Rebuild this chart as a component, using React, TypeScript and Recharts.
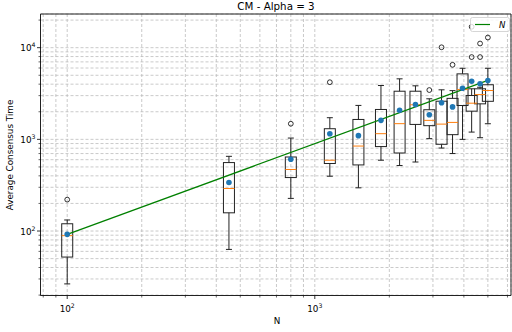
import React from 'react';
import * as R from 'recharts';

const { ComposedChart, XAxis, YAxis, CartesianGrid, Scatter, ReferenceArea, Customized } = R as any;

// ---- data ----
const sizes = [100, 450, 800, 1150, 1500, 1850, 2200, 2550, 2900, 3250, 3600, 3950, 4300, 4650, 5000];
const whiskerLow = [26.5, 63, 227, 396, 296, 592, 518, 566, 1018, 804, 700, 1000, 1200, 1042, 1480];
const quartile1 = [52, 158, 383, 545, 526, 834, 710, 1455, 1410, 883, 1125, 2340, 2030, 2440, 2600];
const medians = [89, 291, 469, 592, 845, 1153, 1483, 2382, 1611, 1466, 1530, 3490, 2480, 3080, 3410];
const quartile3 = [120, 558, 642, 1306, 1648, 2118, 3350, 3350, 2104, 2606, 2800, 5180, 3010, 3560, 3940];
const whiskerHigh = [132, 653, 1033, 1722, 2345, 3865, 4572, 3837, 2770, 3470, 3400, 5960, 3560, 3700, 5960];
const means = [92, 338, 606, 1153, 1097, 1611, 2080, 2400, 1855, 2505, 2260, 3610, 4300, 4030, 4380];

const outlierN = [100, 800, 1150, 2900, 3250, 3600, 4300, 4300, 4650, 4650, 5000];
const outlierT = [220, 1480, 4200, 3450, 10100, 6500, 16900, 7900, 11100, 7900, 12900];

const fitN = [100, 5000];
const fitT = [92, 4400];

const xMajorTicks = [100, 1000];
const xMinorTicks = [80, 90, 200, 300, 400, 500, 600, 700, 800, 900, 2000, 3000, 4000, 5000, 6000];
const yMajorTicks = [100, 1000, 10000];
const yMinorTicks = [20, 30, 40, 50, 60, 70, 80, 90, 200, 300, 400, 500, 600, 700, 800, 900,
  2000, 3000, 4000, 5000, 6000, 7000, 8000, 9000, 20000];

const legendLabel = 'N';

const X_DOMAIN = [78, 6200];
const Y_DOMAIN = [19.8, 23300];

const FONT = 'DejaVu Sans, Verdana, sans-serif';

const meanData = sizes.map((n, i) => ({ x: n, y: means[i] }));
const medianData = sizes.map((n, i) => ({ x: n, y: medians[i] }));
const outlierData = outlierN.map((n, i) => ({ x: n, y: outlierT[i] }));
const fitData = fitN.map((n, i) => ({ x: n, y: fitT[i] }));

const xTicks = [...xMinorTicks, ...xMajorTicks].sort((a, b) => a - b);
const yTicks = [...yMinorTicks, ...yMajorTicks].sort((a, b) => a - b);

const hookX = (R as any).useXAxisScale || null;
const hookY = (R as any).useYAxisScale || null;
const hookPlot = (R as any).usePlotArea || (R as any).useOffset || null;

function BoxLayer() {
  const sx = hookX ? hookX() : null;
  const sy = hookY ? hookY() : null;
  const plot = hookPlot ? hookPlot() : null;
  const p = plot && plot.width ? plot : { x: 40.5, y: 14, width: 470.5, height: 281.5 };
  const lx0 = Math.log10(X_DOMAIN[0]);
  const lx1 = Math.log10(X_DOMAIN[1]);
  const ly0 = Math.log10(Y_DOMAIN[0]);
  const ly1 = Math.log10(Y_DOMAIN[1]);
  const fx = typeof sx === 'function' ? sx : (v: number) => p.x + ((Math.log10(v) - lx0) / (lx1 - lx0)) * p.width;
  const fy = typeof sy === 'function' ? sy : (v: number) => p.y + p.height - ((Math.log10(v) - ly0) / (ly1 - ly0)) * p.height;
  const half = 5.5;
  const cap = 3;
  return (
    <g>
      {sizes.map((n, i) => {
        const cx = fx(n);
        const yq1 = fy(quartile1[i]);
        const yq3 = fy(quartile3[i]);
        const ylo = fy(whiskerLow[i]);
        const yhi = fy(whiskerHigh[i]);
        return (
          <g key={i} stroke="#222" strokeWidth={1} fill="none">
            <rect x={cx - half} y={yq3} width={half * 2} height={yq1 - yq3} />
            <line x1={cx} x2={cx} y1={yq3} y2={yhi} />
            <line x1={cx} x2={cx} y1={yq1} y2={ylo} />
            <line x1={cx - cap} x2={cx + cap} y1={yhi} y2={yhi} />
            <line x1={cx - cap} x2={cx + cap} y1={ylo} y2={ylo} />
          </g>
        );
      })}
    </g>
  );
}

function Decorations() {
  return (
    <g fontFamily={FONT}>
      <text x={276} y={9.5} textAnchor="middle" fontSize={10.3} fill="#000">CM - Alpha = 3</text>
      <text x={277} y={324} textAnchor="middle" fontSize={8.8} fill="#000">N</text>
      <text transform="translate(13,155) rotate(-90)" textAnchor="middle" fontSize={8.8} fill="#000">
        Average Consensus Time
      </text>
    </g>
  );
}

function LegendOverlay() {
  return (
    <svg width={512} height={332} style={{ position: 'absolute', left: 0, top: 0, pointerEvents: 'none' }}>
      <g fontFamily={FONT}>
        <rect x={470.5} y={17.5} width={39} height={14} rx={2} fill="#fff" fillOpacity={0.8} stroke="#ccc" strokeWidth={0.8} />
        <line x1={475} x2={490} y1={24.5} y2={24.5} stroke="#008000" strokeWidth={1.2} />
        <text x={499} y={27.5} fontSize={8.6} fontStyle="italic" fill="#000">{legendLabel}</text>
      </g>
    </svg>
  );
}

const isMajor = (v: number) => Math.abs(Math.log10(v) - Math.round(Math.log10(v))) < 1e-9;

function XTick(props: any) {
  const { x, y, payload } = props;
  const v = payload.value;
  if (isMajor(v)) {
    return (
      <g>
        <line x1={x} x2={x} y1={y} y2={y + 3.5} stroke="#000" strokeWidth={0.8} />
        <text x={x} y={y + 16} textAnchor="middle" fontSize={8.8} fontFamily={FONT} fill="#000">
          10<tspan dy={-4} fontSize={6.2}>{Math.round(Math.log10(v))}</tspan>
        </text>
      </g>
    );
  }
  return <line x1={x} x2={x} y1={y} y2={y + 2} stroke="#000" strokeWidth={0.6} />;
}

function YTick(props: any) {
  const { x, y, payload } = props;
  const v = payload.value;
  if (isMajor(v)) {
    return (
      <g>
        <line x1={x - 3.5} x2={x} y1={y} y2={y} stroke="#000" strokeWidth={0.8} />
        <text x={x - 5} y={y + 3.5} textAnchor="end" fontSize={8.8} fontFamily={FONT} fill="#000">
          10<tspan dy={-4} fontSize={6.2}>{Math.round(Math.log10(v))}</tspan>
        </text>
      </g>
    );
  }
  return <line x1={x - 2} x2={x} y1={y} y2={y} stroke="#000" strokeWidth={0.6} />;
}

export default function App() {
  return (
    <div style={{ position: 'absolute', left: 0, top: 0, width: 512, height: 332, background: '#fff' }}>
      <ComposedChart width={512} height={332} margin={{ top: 14, right: 1, bottom: 0, left: 0 }}>
        <CartesianGrid stroke="#bdbdbd" strokeDasharray="3 2" strokeWidth={0.8} />
        <XAxis
          dataKey="x"
          type="number"
          scale="log"
          domain={X_DOMAIN}
          allowDataOverflow
          ticks={xTicks}
          interval={0}
          tick={<XTick />}
          tickLine={false}
          axisLine={false}
          tickSize={0}
          tickMargin={0}
          height={36.5}
        />
        <YAxis
          dataKey="y"
          type="number"
          scale="log"
          domain={Y_DOMAIN}
          allowDataOverflow
          ticks={yTicks}
          interval={0}
          tick={<YTick />}
          tickLine={false}
          axisLine={false}
          tickSize={0}
          tickMargin={0}
          width={40.5}
        />
        <ReferenceArea x1={X_DOMAIN[0]} x2={X_DOMAIN[1]} y1={Y_DOMAIN[0]} y2={Y_DOMAIN[1]}
          fill="none" fillOpacity={0} stroke="#222" strokeWidth={1} ifOverflow="visible" />
        <Customized component={<BoxLayer />} />
        <Scatter data={medianData} isAnimationActive={false}
          shape={(p: any) => <line x1={p.cx - 5.5} x2={p.cx + 5.5} y1={p.cy} y2={p.cy} stroke="#ff7f0e" strokeWidth={1} />} />
        <Scatter data={fitData} isAnimationActive={false} line={{ stroke: '#008000', strokeWidth: 1.2 }}
          shape={() => <g />} />
        <Scatter data={meanData} isAnimationActive={false}
          shape={(p: any) => <circle cx={p.cx} cy={p.cy} r={2.8} fill="#1f77b4" />} />
        <Scatter data={outlierData} isAnimationActive={false}
          shape={(p: any) => <circle cx={p.cx} cy={p.cy} r={2.4} fill="none" stroke="#000" strokeWidth={0.8} />} />
        <Customized component={<Decorations />} />
      </ComposedChart>
      <LegendOverlay />
    </div>
  );
}
